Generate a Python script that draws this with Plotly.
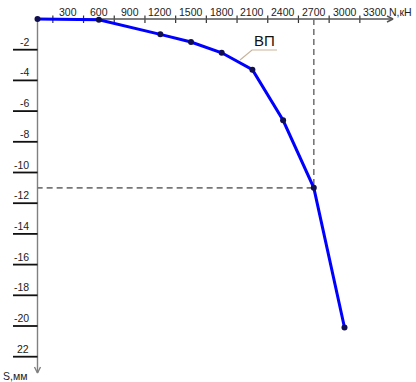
import plotly.graph_objects as go

# Data
loads_kN = [0, 600, 1200, 1500, 1800, 2100, 2400, 2700, 3000]
settle_mm = [0, -0.05, -1.0, -1.5, -2.2, -3.3, -6.6, -11.0, -20.1]
x_tick_vals = [300, 600, 900, 1200, 1500, 1800, 2100, 2400, 2700, 3000, 3300]
y_tick_vals = [-2, -4, -6, -8, -10, -12, -14, -16, -18, -20, -22]
y_tick_text = ["-2", "-4", "-6", "-8", "-10", "-12", "-14", "-16", "-18", "-20", "22"]
x_minor_vals = [150, 450, 750, 1050, 1350, 1650, 1950, 2250, 2550, 2850, 3150]
crit_load, crit_settle = 2700, -11.0

W, H = 416, 382
OX, OY = 37.5, 19.0
SX, SY = 30.7 / 300.0, 15.35


def xd(px):
    return (px - OX) / SX


def yd(py):
    return -(py - OY) / SY


FONT = "Arial, Liberation Sans, sans-serif"
fig = go.Figure()
ann = []

# x minor ticks
xtx, xty = [], []
for v in x_minor_vals:
    xtx += [v, v, None]
    xty += [yd(15.5), yd(23), None]
fig.add_trace(go.Scatter(x=xtx, y=xty, mode="lines", line=dict(color="#333333", width=1.2),
                         hoverinfo="skip", showlegend=False))
# axes + arrows
fig.add_trace(go.Scatter(x=[0, xd(393), None, xd(387), xd(393), xd(387)],
                         y=[0, 0, None, yd(16), 0, yd(22)], mode="lines",
                         line=dict(color="#555555", width=1.4), hoverinfo="skip", showlegend=False))
fig.add_trace(go.Scatter(x=[0, 0, None, xd(34.5), 0, xd(40.5)],
                         y=[0, yd(373), None, yd(367), yd(373), yd(367)], mode="lines",
                         line=dict(color="#808080", width=1.4), hoverinfo="skip", showlegend=False))
# dashed guide lines
fig.add_trace(go.Scatter(x=[crit_load, crit_load, 0], y=[0, crit_settle, crit_settle], mode="lines",
                         line=dict(color="#777777", width=1.6, dash="6px,4px"),
                         hoverinfo="skip", showlegend=False))
# leader line for label
fig.add_trace(go.Scatter(x=[xd(240), xd(252), xd(277)], y=[yd(60), yd(50), yd(50)], mode="lines",
                         line=dict(color="#C8B49B", width=1.2), hoverinfo="skip", showlegend=False))
# y tick lines
ytx, yty = [], []
for v in y_tick_vals:
    ytx += [xd(13), 0, None]
    yty += [v, v, None]
fig.add_trace(go.Scatter(x=ytx, y=yty, mode="lines", line=dict(color="#111111", width=1.8),
                         showlegend=False))

# x tick labels
for v in x_tick_vals:
    ann.append(dict(x=v, y=0, xref="x", yref="y", text=str(v), showarrow=False,
                    xanchor="center", yanchor="bottom", yshift=-1,
                    font=dict(family=FONT, size=10.5, color="#222222")))
# y tick labels
for v, t in zip(y_tick_vals, y_tick_text):
    ann.append(dict(x=xd(31), y=v, xref="x", yref="y", text=t, showarrow=False,
                    xanchor="right", yanchor="bottom", yshift=0,
                    font=dict(family=FONT, size=10.5, color="#222222")))
ann.append(dict(x=xd(264), y=yd(40), xref="x", yref="y", text="ВП", showarrow=False,
                xanchor="center", yanchor="middle", font=dict(family=FONT, size=15, color="#111111")))
# axis titles
ann.append(dict(x=xd(387), y=0, xref="x", yref="y", text="N,кН", showarrow=False,
                xanchor="left", yanchor="bottom", yshift=-1,
                font=dict(family=FONT, size=10.5, color="#222222")))
ann.append(dict(x=xd(1), y=yd(376), xref="x", yref="y", text="S,мм", showarrow=False,
                xanchor="left", yanchor="middle", font=dict(family=FONT, size=10.5, color="#222222")))

fig.add_trace(go.Scatter(x=loads_kN, y=settle_mm, mode="lines+markers",
                         line=dict(color="#0000FF", width=3),
                         marker=dict(color="#101050", size=6),
                         hoverinfo="skip", showlegend=False))

fig.update_layout(
    width=W, height=H, autosize=False,
    margin=dict(l=0, r=0, t=0, b=0),
    paper_bgcolor="white", plot_bgcolor="white",
    xaxis=dict(range=[xd(0), xd(W)], visible=False, fixedrange=True),
    yaxis=dict(range=[yd(H), yd(0)], visible=False, fixedrange=True),
    annotations=ann, showlegend=False,
)
fig.write_html("out.html", config={"displayModeBar": False},
               post_script="document.body.style.margin='0';document.body.style.overflow='hidden';")
